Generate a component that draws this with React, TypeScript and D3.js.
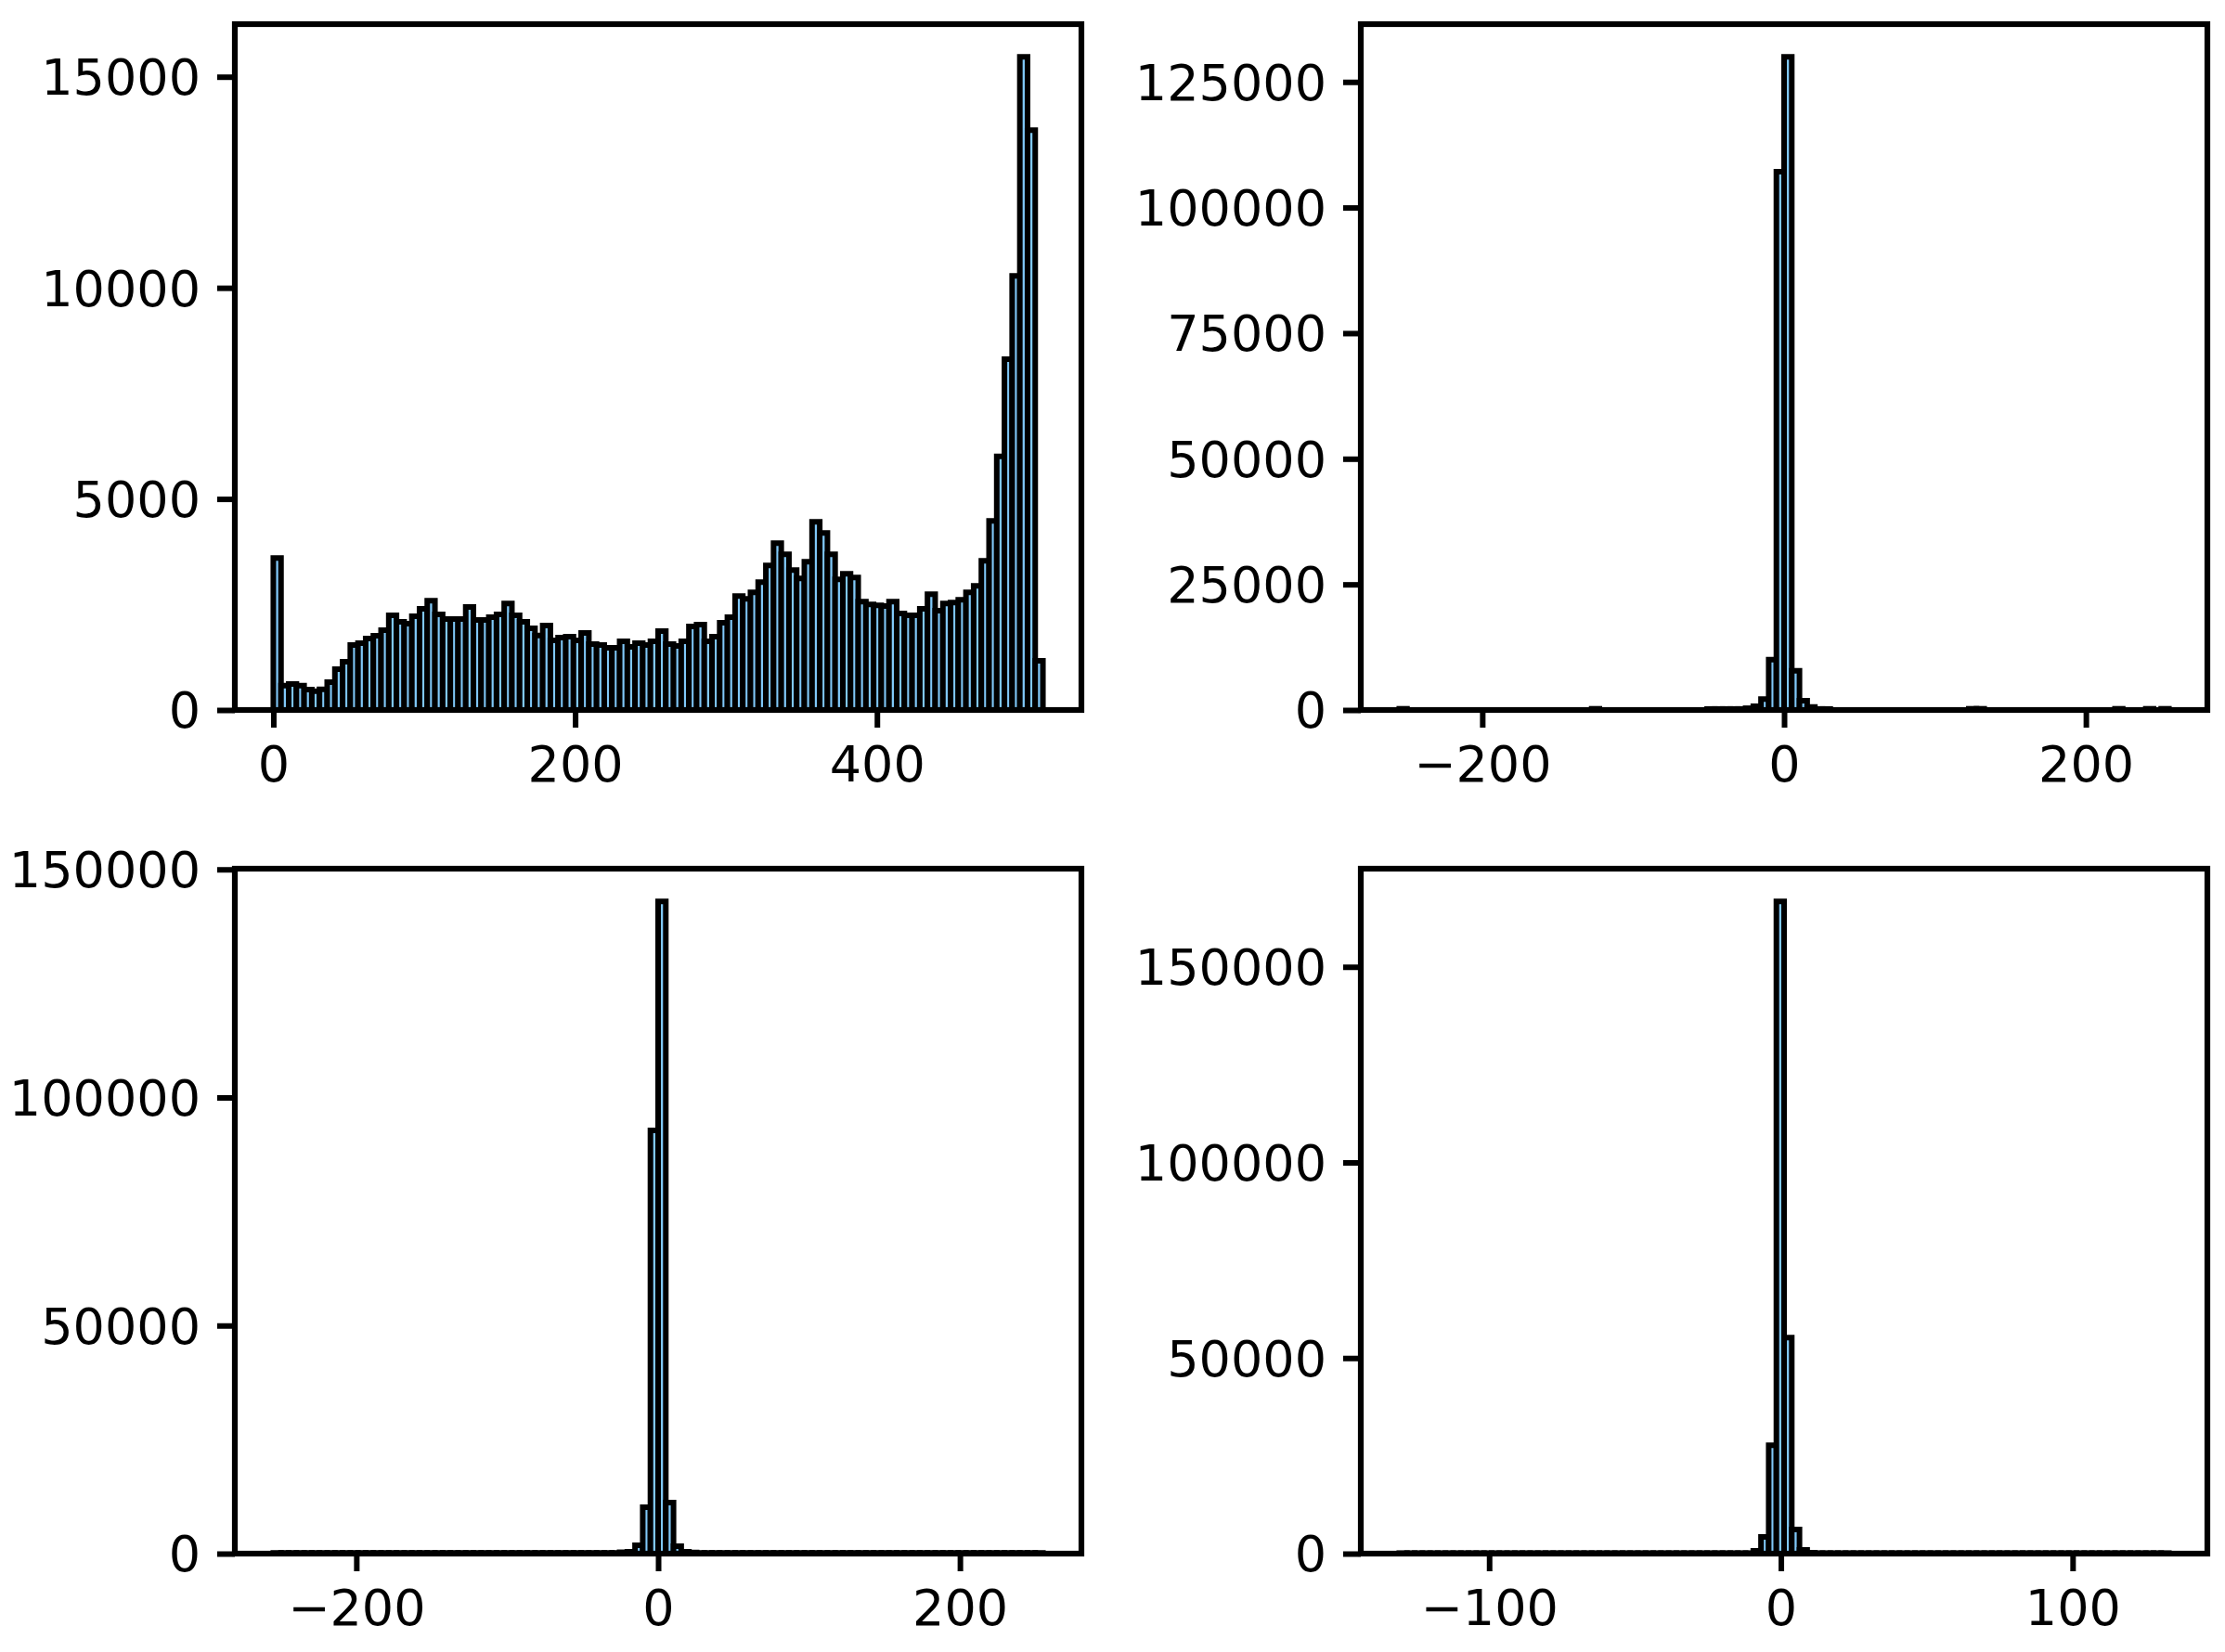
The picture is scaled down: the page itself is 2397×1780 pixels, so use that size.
import React, { useEffect, useRef } from 'react'
import * as d3 from 'd3'

const BIN_COUNT = 100

// counts per bin
const topLeftCounts = [
  3601, 578, 615, 578, 483, 447, 490, 659, 966, 1142,
  1537, 1581, 1691, 1757, 1889, 2240, 2086, 2042, 2218, 2394,
  2591, 2262, 2152, 2152, 2152, 2438, 2130, 2130, 2196, 2262,
  2525, 2240, 2086, 1932, 1764, 1998, 1647, 1713, 1735, 1647,
  1823, 1559, 1537, 1471, 1471, 1625, 1493, 1581, 1537, 1625,
  1867, 1559, 1515, 1625, 1976, 2020, 1625, 1735, 2064, 2196,
  2701, 2635, 2789, 3030, 3426, 3953, 3689, 3316, 3118, 3514,
  4458, 4194, 3689, 3096, 3228, 3140, 2569, 2503, 2481, 2460,
  2569, 2284, 2240, 2240, 2394, 2745, 2350, 2525, 2547, 2613,
  2789, 2943, 3536, 4480, 6010, 8308, 10286, 15473, 13736, 1164,
]
const topRightCounts = [
  240, 0, 0, 0, 0, 0, 0, 0, 0, 0,
  0, 0, 0, 0, 0, 0, 0, 0, 0, 0,
  0, 0, 0, 0, 0, 240, 0, 0, 0, 0,
  0, 0, 0, 0, 0, 0, 0, 0, 0, 0,
  200, 200, 200, 200, 200, 350, 750, 2150, 10030, 107130,
  130000, 7810, 1850, 600, 200, 200, 0, 0, 0, 0,
  0, 0, 0, 0, 0, 0, 0, 0, 0, 0,
  0, 0, 0, 0, 240, 240, 0, 0, 0, 0,
  0, 0, 0, 0, 0, 0, 0, 0, 0, 0,
  0, 0, 0, 240, 0, 0, 0, 240, 0, 240,
]
const bottomLeftCounts = [
  150, 150, 150, 150, 150, 150, 150, 150, 150, 150,
  150, 150, 150, 150, 150, 150, 150, 150, 150, 150,
  150, 150, 150, 150, 150, 150, 150, 150, 150, 150,
  150, 150, 150, 150, 150, 150, 150, 150, 150, 150,
  150, 150, 150, 150, 150, 300, 400, 1830, 10170, 92800,
  143000, 11186, 1627, 400, 250, 150, 150, 150, 150, 150,
  150, 150, 150, 150, 150, 150, 150, 150, 150, 150,
  150, 150, 150, 150, 150, 150, 150, 150, 150, 150,
  150, 150, 150, 150, 150, 150, 150, 150, 150, 150,
  150, 150, 150, 150, 150, 150, 150, 150, 150, 150,
]
const bottomRightCounts = [
  130, 130, 130, 130, 130, 130, 130, 130, 130, 130,
  130, 130, 130, 130, 130, 130, 130, 130, 130, 130,
  130, 130, 130, 130, 130, 130, 130, 130, 130, 130,
  130, 130, 130, 130, 130, 130, 130, 130, 130, 130,
  130, 130, 130, 130, 130, 130, 711, 4266, 27700, 166750,
  55200, 6162, 950, 240, 130, 130, 130, 130, 130, 130,
  130, 130, 130, 130, 130, 130, 130, 130, 130, 130,
  130, 130, 130, 130, 130, 130, 130, 130, 130, 130,
  130, 130, 130, 130, 130, 130, 130, 130, 130, 130,
  130, 130, 130, 130, 130, 130, 130, 130, 130, 130,
]

const topLeftXTicks = [0, 200, 400]
const topLeftYTicks = [0, 5000, 10000, 15000]
const topRightXTicks = [-200, 0, 200]
const topRightYTicks = [0, 25000, 50000, 75000, 100000, 125000]
const bottomLeftXTicks = [-200, 0, 200]
const bottomLeftYTicks = [0, 50000, 100000, 150000]
const bottomRightXTicks = [-100, 0, 100]
const bottomRightYTicks = [0, 50000, 100000, 150000]

const FONT = '"DejaVu Sans", sans-serif'
const FONT_SIZE = 54
const SPINE_WIDTH = 6.2
const BAR_EDGE = 6
const BAR_FILL = '#80c8f8'

interface PanelProps {
  left: number
  top: number
  right: number
  bottom: number
  counts: number[]
  range: [number, number] // data extent, the bins span this
  xTicks: number[]
  yTicks: number[]
}

const Panel: React.FC<PanelProps> = ({ left, top, right, bottom, counts, range, xTicks, yTicks }) => {
  const xAxisRef = useRef<SVGGElement>(null)
  const yAxisRef = useRef<SVGGElement>(null)

  // same 5% margins matplotlib puts round the data
  const pad = (range[1] - range[0]) * 0.05
  const xScale = d3
    .scaleLinear()
    .domain([range[0] - pad, range[1] + pad])
    .range([left, right])
  const yScale = d3
    .scaleLinear()
    .domain([0, (d3.max(counts) as number) * 1.05])
    .range([bottom, top])
  const binWidth = (range[1] - range[0]) / BIN_COUNT

  useEffect(() => {
    const plain = d3.format('d')
    const xAxis = d3
      .axisBottom(xScale)
      .tickValues(xTicks)
      .tickFormat(plain as any)
      .tickSize(19)
      .tickSizeOuter(0)
      .tickPadding(20)
    const yAxis = d3
      .axisLeft(yScale)
      .tickValues(yTicks)
      .tickFormat(plain as any)
      .tickSize(19)
      .tickSizeOuter(0)
      .tickPadding(18)
    const xG = d3.select(xAxisRef.current as SVGGElement).call(xAxis as any)
    const yG = d3.select(yAxisRef.current as SVGGElement).call(yAxis as any)
    ;[xG, yG].forEach(g => {
      g.select('.domain').remove()
      g.selectAll('.tick line').attr('stroke', '#000').attr('stroke-width', 6)
      g.selectAll('.tick text')
        .attr('fill', '#000')
        .style('font-family', FONT)
        .style('font-size', `${FONT_SIZE}px`)
    })
    yG.selectAll('.tick text').attr('dy', '0.35em')
  }, [xScale, yScale, xTicks, yTicks])

  // a path, since a rect of height 0 would not draw its outline
  const barPath = (count: number, i: number) => {
    const x0 = xScale(range[0] + i * binWidth)
    const x1 = xScale(range[0] + (i + 1) * binWidth)
    const p = d3.path()
    p.moveTo(x0, yScale(0))
    p.lineTo(x0, yScale(count))
    p.lineTo(x1, yScale(count))
    p.lineTo(x1, yScale(0))
    p.closePath()
    return p.toString()
  }

  return (
    <g>
      {counts.map((c, i) => (
        <path key={i} d={barPath(c, i)} fill={BAR_FILL} stroke="#000" strokeWidth={BAR_EDGE} />
      ))}
      <g ref={xAxisRef} transform={`translate(0,${bottom})`} />
      <g ref={yAxisRef} transform={`translate(${left},0)`} />
      <rect
        x={left}
        y={top}
        width={right - left}
        height={bottom - top}
        fill="none"
        stroke="#000"
        strokeWidth={SPINE_WIDTH}
      />
    </g>
  )
}

const App: React.FC = () => (
  <svg
    width={2397}
    height={1780}
    style={{ position: 'absolute', left: 0, top: 0, display: 'block', background: '#fff' }}
  >
    <Panel
      left={253}
      right={1165}
      top={26}
      bottom={765}
      counts={topLeftCounts}
      range={[0, 510]}
      xTicks={topLeftXTicks}
      yTicks={topLeftYTicks}
    />
    <Panel
      left={1466}
      right={2378}
      top={26}
      bottom={765}
      counts={topRightCounts}
      range={[-255, 255]}
      xTicks={topRightXTicks}
      yTicks={topRightYTicks}
    />
    <Panel
      left={253}
      right={1165}
      top={936}
      bottom={1674}
      counts={bottomLeftCounts}
      range={[-255, 255]}
      xTicks={bottomLeftXTicks}
      yTicks={bottomLeftYTicks}
    />
    <Panel
      left={1466}
      right={2378}
      top={936}
      bottom={1674}
      counts={bottomRightCounts}
      range={[-130.8, 133]}
      xTicks={bottomRightXTicks}
      yTicks={bottomRightYTicks}
    />
  </svg>
)

export default App
